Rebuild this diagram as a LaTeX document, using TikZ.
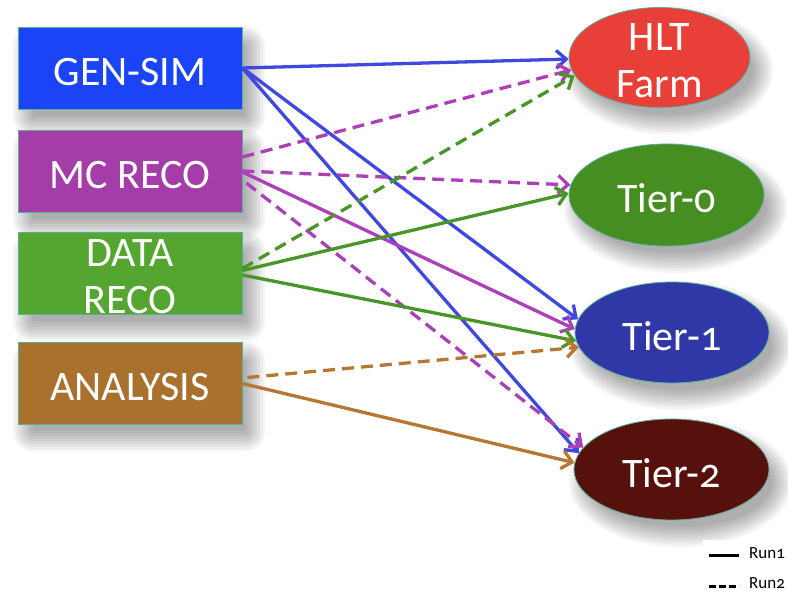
\documentclass[tikz,border=0pt]{standalone}
\usepackage{fontspec}
\setmainfont[Numbers=OldStyle]{Carlito}
\usetikzlibrary{shapes.geometric,arrows.meta}
\definecolor{cGen}{RGB}{26,68,245}
\definecolor{cMc}{RGB}{164,61,168}
\definecolor{cData}{RGB}{84,166,48}
\definecolor{cAna}{RGB}{170,112,46}
\definecolor{cHlt}{RGB}{232,64,56}
\definecolor{cT0}{RGB}{70,142,34}
\definecolor{cT1}{RGB}{48,56,168}
\definecolor{cT2}{RGB}{87,17,13}
\definecolor{cEdge}{RGB}{90,175,155}
\definecolor{aBlue}{RGB}{64,72,222}
\definecolor{aMag}{RGB}{172,64,184}
\definecolor{aGreen}{RGB}{72,150,40}
\definecolor{aBrown}{RGB}{182,120,48}
\tikzset{
  srcbox/.style={draw=cEdge, line width=0.8pt, minimum width=224pt, minimum height=82pt,
    inner sep=0pt},
  sink/.style={ellipse, draw=cEdge, line width=0.8pt, inner sep=0pt},
  inlabel/.style={text=white, align=center, inner sep=0pt, yshift=-3.5pt,
    font=\fontsize{42}{47}\selectfont},
  shadowlayer/.style={fill=black, fill opacity=0.038, draw=none, inner sep=0pt},
  flow/.style={line width=3.3pt, -{Straight Barb[length=10pt,width=18pt,line width=3.3pt]}},
  dflow/.style={flow, dash pattern=on 12pt off 7pt},
}
% soft shadow: #1 x, #2 y (centre), #3 width, #4 height
\newcommand\myshadowbox[4]{%
  \foreach \r in {0,2.5,...,20}{%
    \node[shadowlayer, rectangle, rounded corners=\r pt,
      minimum width=#3pt-12pt+2*\r pt, minimum height=#4pt-12pt+2*\r pt]
      at (#1+9,#2-13) {};}}
\newcommand\myshadowell[4]{%
  \foreach \r in {0,2.5,...,20}{%
    \node[shadowlayer, ellipse,
      minimum width=#3pt-12pt+2*\r pt, minimum height=#4pt-12pt+2*\r pt]
      at (#1+9,#2-13) {};}}
\begin{document}
\begin{tikzpicture}[x=1pt,y=1pt]
\useasboundingbox (0,0) rectangle (788,-593);
\fill[white] (0,0) rectangle (788,-593);
% shadows
\myshadowbox{130}{-68}{224}{82}
\myshadowbox{130}{-171}{224}{82}
\myshadowbox{130}{-273.5}{224}{82}
\myshadowbox{130}{-383.5}{224}{82}
\myshadowell{659.5}{-57.5}{181}{100}
\myshadowell{666.5}{-195}{195}{102}
\myshadowell{672}{-332.5}{194}{101}
\myshadowell{671.5}{-469.5}{195}{101}
% sources
\node[srcbox, fill=cGen, label={[inlabel, yshift=-0.5pt]center:GEN-SIM}]  (gen)  at (130,-68) {};
\node[srcbox, fill=cMc, label={[inlabel, yshift=-0.5pt]center:MC RECO}]   (mc)   at (130,-171) {};
\node[srcbox, fill=cData, label={[inlabel]center:{DATA\\RECO}}] (data) at (130,-273.5) {};
\node[srcbox, fill=cAna, label={[inlabel]center:ANALYSIS}]  (ana)  at (130,-383.5) {};
% sinks
\node[sink, fill=cHlt, minimum width=181pt, minimum height=100pt, label={[inlabel]center:{HLT\\Farm}}] (hlt) at (659.5,-57.5) {};
\node[sink, fill=cT0, minimum width=195pt, minimum height=102pt, label={[inlabel]center:Tier-0}] (t0) at (666.5,-195) {};
\node[sink, fill=cT1, minimum width=194pt, minimum height=101pt, label={[inlabel]center:Tier-1}] (t1) at (672,-332.5) {};
\node[sink, fill=cT2, minimum width=195pt, minimum height=101pt, label={[inlabel]center:Tier-2}] (t2) at (671.5,-469.5) {};
% GEN-SIM
\draw[flow, aBlue] (gen.east) -- (hlt.181);
\draw[flow, aBlue] (gen.east) -- (t1.172);
\draw[flow, aBlue] (gen.east) -- (t2.170);
% MC RECO
\draw[dflow, aMag] ([yshift=14pt]mc.east) -- (hlt.188);
\draw[dflow, aMag] (mc.east) -- (t0.174);
\draw[flow, aMag] ([yshift=-1pt]mc.east) -- (t1.178);
\draw[dflow, aMag] ([xshift=4pt,yshift=-12pt]mc.east) -- (t2.166);
% DATA RECO
\draw[dflow, aGreen] ([yshift=5pt]data.east) -- (hlt.192);
\draw[flow, aGreen] ([yshift=3pt]data.east) -- (t0.179);
\draw[flow, aGreen] ([yshift=-1.5pt]data.east) -- (t1.185);
% ANALYSIS
\draw[dflow, aBrown] ([xshift=5pt,yshift=6pt]ana.east) -- (t1.189);
\draw[flow, aBrown] (ana.east) -- (t2.176);
% legend
\fill[white] (703,-540) rectangle (788,-593);
\coordinate (l1a) at (709,-556);
\coordinate (l1b) at (739,-556);
\coordinate (l2a) at (709,-587);
\coordinate (l2b) at (739,-587);
\draw[line width=3pt] (l1a) -- (l1b);
\draw[line width=3pt, dash pattern=on 7pt off 3pt] (l2a) -- (l2b);
\node[anchor=base west, inner sep=0pt, font=\fontsize{17}{19}\selectfont] (run1) at (749,-559) {Run1};
\node[anchor=base west, inner sep=0pt, font=\fontsize{17}{19}\selectfont] (run2) at (749,-589) {Run2};
\end{tikzpicture}
\end{document}
